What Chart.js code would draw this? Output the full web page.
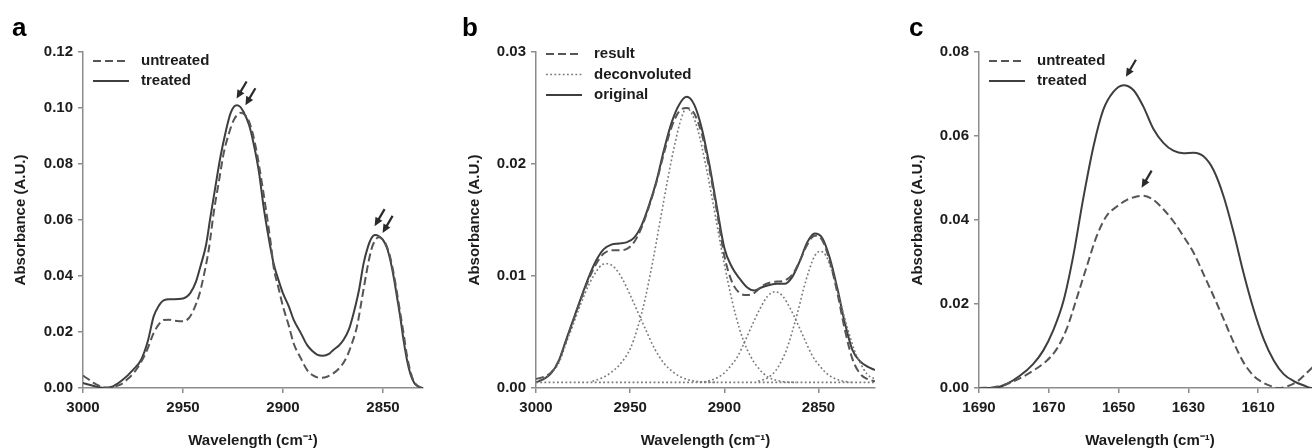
<!DOCTYPE html>
<html>
<head>
<meta charset="utf-8">
<script src="https://cdn.jsdelivr.net/npm/chart.js@4.4.1/dist/chart.umd.min.js"></script>
<style>
  html, body { margin: 0; padding: 0; background: #fff; }
  #wrap { position: relative; width: 1312px; height: 448px; overflow: hidden; }
  canvas { position: absolute; top: 0; }
</style>
</head>
<body>
<div id="wrap">
  <canvas id="panelA" width="440" height="448" style="left:0px"></canvas>
  <canvas id="panelB" width="440" height="448" style="left:440px"></canvas>
  <canvas id="panelC" width="444" height="448" style="left:880px"></canvas>
</div>
<script>
// ---- panel a: C-H stretch, untreated vs treated
const aTreatedX = [3000, 2995, 2990, 2985, 2980, 2975, 2971, 2967.5, 2964.7, 2962, 2959.7, 2956.3, 2950, 2946.3, 2943.5, 2941.3, 2938.5, 2936.3, 2934, 2931.3, 2928.5, 2926.3, 2924.5, 2923, 2921.5, 2919.7, 2917, 2914.7, 2912, 2909.7, 2907, 2904.7, 2902, 2900, 2897, 2894.7, 2891, 2888, 2885, 2883, 2880, 2877, 2874.7, 2872, 2869.7, 2867, 2864.7, 2862, 2859.7, 2857.5, 2856, 2854, 2852, 2850, 2848, 2846.3, 2844.5, 2843, 2841.3, 2839.7, 2838, 2836.3, 2834.5, 2833, 2831, 2830]
const aTreatedY = [0.0018, 0.0008, 0.0001, 0.0006, 0.0030, 0.0065, 0.0100, 0.0170, 0.0255, 0.0295, 0.0313, 0.0317, 0.0320, 0.0340, 0.0380, 0.0434, 0.0510, 0.0610, 0.0710, 0.0825, 0.0920, 0.0980, 0.1005, 0.1010, 0.1005, 0.0986, 0.0940, 0.0873, 0.0770, 0.0647, 0.0530, 0.0445, 0.0380, 0.0338, 0.0290, 0.0244, 0.0195, 0.0154, 0.0130, 0.0119, 0.0115, 0.0122, 0.0137, 0.0152, 0.0172, 0.0210, 0.0267, 0.0350, 0.0445, 0.0505, 0.0532, 0.0546, 0.0542, 0.0529, 0.0500, 0.0455, 0.0390, 0.0325, 0.0250, 0.0170, 0.0100, 0.0050, 0.0020, 0.0008, 0.0001, 0.0000]
const aUntreatedX = [3000, 2997, 2994.7, 2992, 2990, 2987, 2984.7, 2981, 2978, 2974.5, 2971.3, 2968, 2964.7, 2962, 2959.7, 2957, 2954.7, 2950, 2947, 2944.7, 2942, 2939.7, 2937, 2934.7, 2932, 2929.7, 2927, 2924.7, 2922.5, 2921, 2919.5, 2917.2, 2915, 2913, 2910.5, 2908, 2906, 2904.7, 2902, 2900, 2897, 2894.7, 2891, 2888, 2885, 2881.3, 2878, 2874.7, 2871, 2868, 2865.5, 2863, 2860.5, 2858, 2856, 2854.7, 2852.2, 2850.5, 2848.8, 2846.5, 2844.7, 2843, 2841.3, 2839.5, 2838, 2836.3, 2834.7, 2832.5, 2830.5]
const aUntreatedY = [0.0044, 0.0030, 0.0018, 0.0008, 0.0002, 0.0000, 0.0004, 0.0013, 0.0030, 0.0055, 0.0089, 0.0135, 0.0196, 0.0228, 0.0243, 0.0244, 0.0241, 0.0238, 0.0250, 0.0279, 0.0330, 0.0398, 0.0500, 0.0624, 0.0740, 0.0837, 0.0910, 0.0956, 0.0978, 0.0983, 0.0978, 0.0956, 0.0905, 0.0837, 0.0730, 0.0612, 0.0510, 0.0433, 0.0350, 0.0291, 0.0220, 0.0160, 0.0105, 0.0065, 0.0045, 0.0036, 0.0040, 0.0053, 0.0078, 0.0113, 0.0160, 0.0220, 0.0320, 0.0422, 0.0490, 0.0517, 0.0538, 0.0532, 0.0517, 0.0470, 0.0410, 0.0340, 0.0265, 0.0185, 0.0115, 0.0060, 0.0025, 0.0007, 0.0000]
const aTicksX = [3000, 2950, 2900, 2850]
const aTicksY = [0, 0.02, 0.04, 0.06, 0.08, 0.10, 0.12]
const aArrowX = [2923.2, 2918.8, 2854.2, 2850.2]
const aArrowY = [0.1034, 0.1010, 0.0578, 0.0554]

// ---- panel b: curve fitting of the treated spectrum
const bX = [3000, 2996, 2992, 2988, 2984, 2980, 2976, 2972, 2968, 2964, 2960, 2956, 2952, 2948, 2944, 2940, 2936, 2932, 2928, 2924, 2920, 2916, 2912, 2908, 2904, 2900, 2896, 2892, 2888, 2884, 2880, 2876, 2872, 2868, 2864, 2860, 2856, 2852, 2848, 2844, 2840, 2836, 2832, 2828, 2824, 2820]
const bOriginal = [0.0005, 0.0008, 0.0013, 0.0024, 0.0043, 0.0062, 0.0081, 0.0099, 0.0114, 0.0124, 0.0128, 0.0129, 0.0130, 0.0134, 0.0145, 0.0163, 0.0185, 0.0213, 0.0237, 0.0253, 0.0260, 0.0253, 0.0232, 0.0200, 0.0162, 0.0125, 0.0108, 0.0098, 0.0090, 0.0087, 0.0090, 0.0092, 0.0093, 0.0093, 0.0099, 0.0113, 0.0130, 0.0138, 0.0134, 0.0116, 0.0089, 0.0058, 0.0034, 0.0024, 0.0019, 0.0016]
const bResult = [0.0008, 0.0010, 0.0014, 0.0024, 0.0042, 0.0061, 0.0080, 0.0097, 0.0111, 0.0120, 0.0123, 0.0123, 0.0124, 0.0130, 0.0143, 0.0162, 0.0184, 0.0210, 0.0233, 0.0247, 0.0250, 0.0245, 0.0227, 0.0196, 0.0158, 0.0118, 0.0095, 0.0085, 0.0083, 0.0085, 0.0091, 0.0094, 0.0095, 0.0096, 0.0101, 0.0113, 0.0128, 0.0136, 0.0132, 0.0113, 0.0085, 0.0052, 0.0026, 0.0013, 0.0008, 0.0006]
const bPeak1X = [2998, 2993, 2988, 2984, 2980, 2976, 2972, 2968, 2965, 2962, 2958, 2954, 2950, 2946, 2942, 2937, 2932, 2927, 2922, 2915, 2905]
const bPeak1Y = [0.0007, 0.0012, 0.0022, 0.0040, 0.0058, 0.0076, 0.0092, 0.0104, 0.0110, 0.0111, 0.0107, 0.0097, 0.0083, 0.0068, 0.0053, 0.0035, 0.0022, 0.0014, 0.0009, 0.0006, 0.0005]
const bPeak2X = [2970, 2965, 2960, 2955, 2950, 2946, 2942, 2938, 2934, 2930, 2926, 2923, 2920, 2917, 2914, 2910, 2906, 2902, 2898, 2894, 2890, 2886, 2882, 2877, 2870, 2862]
const bPeak2Y = [0.0006, 0.0009, 0.0014, 0.0022, 0.0035, 0.0054, 0.0080, 0.0113, 0.0150, 0.0187, 0.0220, 0.0240, 0.0250, 0.0244, 0.0230, 0.0200, 0.0165, 0.0128, 0.0094, 0.0065, 0.0043, 0.0028, 0.0018, 0.0010, 0.0006, 0.0005]
const bPeak3X = [2913, 2907, 2901, 2897, 2893, 2889, 2885, 2881, 2877, 2873, 2869, 2865, 2861, 2857, 2853, 2849, 2845, 2839, 2833]
const bPeak3Y = [0.0005, 0.0007, 0.0012, 0.0019, 0.0028, 0.0042, 0.0057, 0.0071, 0.0082, 0.0086, 0.0082, 0.0071, 0.0057, 0.0042, 0.0028, 0.0019, 0.0012, 0.0007, 0.0005]
const bPeak4X = [2882, 2877, 2873, 2870, 2867, 2864, 2861, 2858, 2855, 2852, 2849, 2846, 2843, 2840, 2837, 2834, 2831, 2828, 2824, 2820]
const bPeak4Y = [0.0006, 0.0009, 0.0015, 0.0023, 0.0034, 0.0050, 0.0068, 0.0088, 0.0105, 0.0118, 0.0122, 0.0118, 0.0105, 0.0088, 0.0068, 0.0050, 0.0034, 0.0023, 0.0012, 0.0008]
const bBaseX = [3000, 2820]
const bBaseY = [0.0005, 0.0005]
const bTicksX = [3000, 2950, 2900, 2850]
const bTicksY = [0, 0.01, 0.02, 0.03]

// ---- panel c: amide I region
const cTreatedX = [1690, 1685.9, 1682.2, 1678.3, 1674.5, 1671.6, 1668.8, 1665.8, 1663.0, 1660.2, 1657.2, 1654.4, 1651.5, 1648.6, 1645.7, 1642.9, 1640.1, 1637.1, 1634.3, 1631.4, 1628.5, 1625.6, 1622.8, 1619.9, 1617.0, 1614.2, 1611.3, 1608.4, 1605.5, 1602.7, 1599.7, 1596.9, 1594.6, 1592.5]
const cTreatedY = [0.0000, 0.0000, 0.0009, 0.0029, 0.0057, 0.0089, 0.0136, 0.0207, 0.0314, 0.0448, 0.0575, 0.0662, 0.0705, 0.0721, 0.0709, 0.0670, 0.0618, 0.0583, 0.0565, 0.0559, 0.0560, 0.0551, 0.0519, 0.0456, 0.0369, 0.0274, 0.0187, 0.0116, 0.0065, 0.0033, 0.0016, 0.0006, 0.0000, 0.0000]
const cUntreatedX = [1690, 1685.9, 1682.2, 1678.3, 1674.5, 1670.6, 1667.8, 1664.9, 1662.1, 1659.1, 1656.3, 1653.5, 1650.5, 1647.6, 1644.8, 1642.9, 1640.0, 1637.1, 1634.3, 1631.4, 1628.5, 1625.6, 1622.8, 1619.9, 1617.0, 1614.2, 1611.3, 1608.4, 1605.8, 1604.3, 1601.7, 1598.6, 1595.6, 1592.5]
const cUntreatedY = [0.0000, 0.0002, 0.0009, 0.0023, 0.0041, 0.0065, 0.0092, 0.0140, 0.0211, 0.0290, 0.0361, 0.0409, 0.0432, 0.0448, 0.0456, 0.0458, 0.0448, 0.0425, 0.0397, 0.0361, 0.0322, 0.0270, 0.0219, 0.0164, 0.0108, 0.0061, 0.0029, 0.0012, 0.0003, 0.0000, 0.0004, 0.0017, 0.0040, 0.0065]
const cTicksX = [1690, 1670, 1650, 1630, 1610]
const cTicksY = [0, 0.02, 0.04, 0.06, 0.08]
const cArrowX = [1647.9, 1643.4]
const cArrowY = [0.0741, 0.0477]

const FONT = '"Liberation Sans", Arial, Helvetica, sans-serif'
const AXIS = "#8c8c8c"
const INK = "#1c1c1c"
const SOLID = "#3e3e3e"
const DASHED = "#555555"
const DOTTED = "#7a7a7a"

Chart.defaults.font.family = FONT
Chart.defaults.font.weight = "bold"
Chart.defaults.font.size = 15
Chart.defaults.color = INK

const pts = (xs, ys) => xs.map((x, i) => ({ x: x, y: ys[i] }))

const solidLine = (label, xs, ys) => ({
  label: label, data: pts(xs, ys), borderColor: SOLID, borderWidth: 2,
  pointRadius: 0, cubicInterpolationMode: "monotone", fill: false
})
const dashedLine = (label, xs, ys) => ({
  label: label, data: pts(xs, ys), borderColor: DASHED, borderWidth: 2, borderDash: [8, 4],
  pointRadius: 0, cubicInterpolationMode: "monotone", fill: false
})
const dottedLine = (label, xs, ys) => ({
  label: label, data: pts(xs, ys), borderColor: DOTTED, borderWidth: 1.6, borderDash: [1.8, 2.4],
  pointRadius: 0, cubicInterpolationMode: "monotone", fill: false
})

// legend drawn inside the plot, top left, as in the figure
const insideLegend = {
  id: "insideLegend",
  afterDraw(chart, args, opts) {
    const { ctx, chartArea } = chart
    const x0 = chartArea.left + 10
    ctx.save()
    ctx.font = "bold 15px " + FONT
    ctx.textBaseline = "middle"
    let row = 0
    chart.data.datasets.forEach(ds => {
      if (!ds.label) return
      const y = opts.top + row * opts.gap
      ctx.strokeStyle = ds.borderColor
      ctx.lineWidth = ds.borderWidth
      ctx.setLineDash(ds.borderDash || [])
      ctx.beginPath()
      ctx.moveTo(x0, y)
      ctx.lineTo(x0 + 36, y)
      ctx.stroke()
      ctx.fillStyle = INK
      ctx.fillText(ds.label, chartArea.left + 58, y)
      row++
    })
    ctx.restore()
  }
}

// small arrows pointing at the band maxima
const peakArrows = {
  id: "peakArrows",
  afterDraw(chart, args, opts) {
    if (!opts.x) return
    const { ctx, scales } = chart
    ctx.save()
    ctx.strokeStyle = "#2a2a2a"
    ctx.fillStyle = "#2a2a2a"
    ctx.lineWidth = 2.2
    opts.x.forEach((v, i) => {
      const tx = scales.x.getPixelForValue(v)
      const ty = scales.y.getPixelForValue(opts.y[i])
      const dx = 10, dy = -17
      const len = Math.hypot(dx, dy)
      const ux = dx / len, uy = dy / len
      ctx.beginPath()
      ctx.moveTo(tx + ux * 5, ty + uy * 5)
      ctx.lineTo(tx + dx, ty + dy)
      ctx.stroke()
      ctx.beginPath()
      ctx.moveTo(tx, ty)
      ctx.lineTo(tx + ux * 8.5 - uy * 4, ty + uy * 8.5 + ux * 4)
      ctx.lineTo(tx + ux * 8.5 + uy * 4, ty + uy * 8.5 - ux * 4)
      ctx.closePath()
      ctx.fill()
    })
    ctx.restore()
  }
}

const panelLetter = {
  id: "panelLetter",
  afterDraw(chart, args, opts) {
    const ctx = chart.ctx
    ctx.save()
    ctx.font = "bold 26px " + FONT
    ctx.fillStyle = "#000"
    ctx.textBaseline = "alphabetic"
    ctx.fillText(opts.text, opts.x, 36)
    ctx.restore()
  }
}

function makePanel(id, p) {
  return new Chart(document.getElementById(id), {
    type: "line",
    data: { datasets: p.datasets },
    plugins: [insideLegend, peakArrows, panelLetter],
    options: {
      responsive: false,
      animation: false,
      devicePixelRatio: 1,
      layout: { padding: { left: 0, right: p.padRight, top: 52, bottom: 0 } },
      plugins: {
        legend: { display: false },
        tooltip: { enabled: false },
        insideLegend: { top: p.legendTop, gap: p.legendGap },
        peakArrows: { x: p.arrowX, y: p.arrowY },
        panelLetter: { text: p.letter, x: p.letterX }
      },
      scales: {
        x: {
          type: "linear",
          reverse: true,
          min: p.xMin,
          max: p.xMax,
          afterBuildTicks: s => { s.ticks = p.ticksX.map(v => ({ value: v })) },
          afterFit: s => { s.height = 60 },
          border: { display: true, color: AXIS, width: 1.5 },
          grid: { display: true, drawOnChartArea: false, drawTicks: true, tickLength: 5, color: AXIS, lineWidth: 1.5 },
          ticks: { padding: 6, maxRotation: 0, autoSkip: false, callback: v => String(v) },
          title: {
            display: true,
            text: "Wavelength (cm\u207B\u00B9)",
            padding: { top: 0, bottom: 0 },
            font: { size: 15, weight: "bold", lineHeight: 1 }
          }
        },
        y: {
          min: 0,
          max: p.yMax,
          afterBuildTicks: s => { s.ticks = p.ticksY.map(v => ({ value: v })) },
          afterFit: s => { s.width = p.axisLeft },
          border: { display: true, color: AXIS, width: 1.5 },
          grid: { display: true, drawOnChartArea: false, drawTicks: true, tickLength: 5, color: AXIS, lineWidth: 1.5 },
          ticks: { padding: 5, callback: v => v.toFixed(2) },
          title: {
            display: true,
            text: "Absorbance (A.U.)",
            padding: { top: p.yTitlePad, bottom: 0 },
            font: { size: 15, weight: "bold", lineHeight: 1.2 }
          }
        }
      }
    }
  })
}

makePanel("panelA", {
  letter: "a", letterX: 12,
  axisLeft: 83, padRight: 17, yTitlePad: 12,
  xMin: 2830, xMax: 3000, yMax: 0.12,
  ticksX: aTicksX, ticksY: aTicksY,
  legendTop: 61, legendGap: 20,
  arrowX: aArrowX, arrowY: aArrowY,
  datasets: [
    dashedLine("untreated", aUntreatedX, aUntreatedY),
    solidLine("treated", aTreatedX, aTreatedY)
  ]
})

makePanel("panelB", {
  letter: "b", letterX: 22,
  axisLeft: 96, padRight: 5, yTitlePad: 26,
  xMin: 2820, xMax: 3000, yMax: 0.03,
  ticksX: bTicksX, ticksY: bTicksY,
  legendTop: 54, legendGap: 20.5,
  datasets: [
    dashedLine("result", bX, bResult),
    dottedLine("deconvoluted", bPeak1X, bPeak1Y),
    dottedLine("", bPeak2X, bPeak2Y),
    dottedLine("", bPeak3X, bPeak3Y),
    dottedLine("", bPeak4X, bPeak4Y),
    dottedLine("", bBaseX, bBaseY),
    solidLine("original", bX, bOriginal)
  ]
})

makePanel("panelC", {
  letter: "c", letterX: 29,
  axisLeft: 99, padRight: 3, yTitlePad: 29,
  xMin: 1592, xMax: 1690, yMax: 0.08,
  ticksX: cTicksX, ticksY: cTicksY,
  legendTop: 61, legendGap: 20,
  arrowX: cArrowX, arrowY: cArrowY,
  datasets: [
    dashedLine("untreated", cUntreatedX, cUntreatedY),
    solidLine("treated", cTreatedX, cTreatedY)
  ]
})
</script>
</body>
</html>
